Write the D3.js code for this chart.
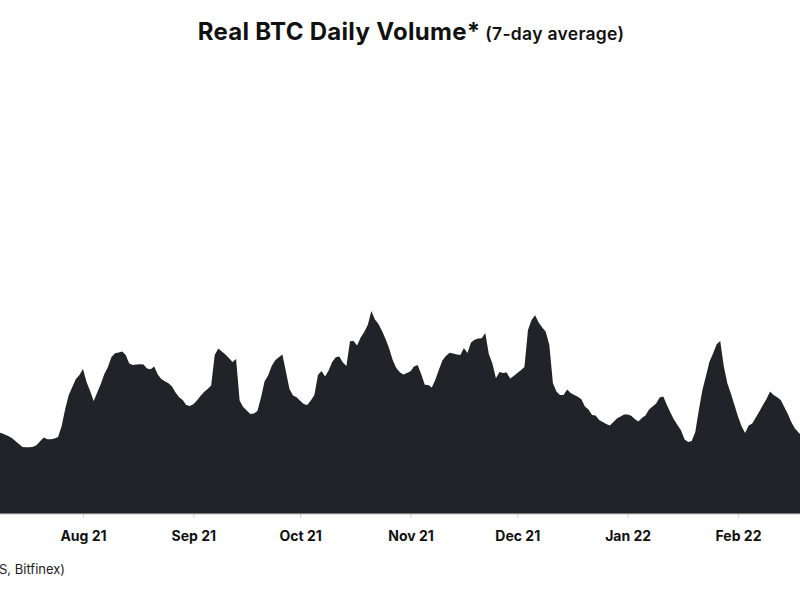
<!DOCTYPE html>
<html><head><meta charset="utf-8">
<script src="https://cdn.jsdelivr.net/npm/d3@7"></script>
<style>body{margin:0;background:#fff} svg{display:block}</style>
</head><body><svg id="c" width="800" height="600"></svg>
<script>
// ---- data ----
const startDate = "2021-07-08"; // first daily point
const volume = [
4.10,4.05,3.98,3.90,3.80,3.65,3.50,3.35,3.34,3.34,
3.36,3.45,3.65,3.82,3.74,3.74,3.78,3.85,4.40,5.25,
5.95,6.35,6.75,6.95,7.25,6.60,6.15,5.65,6.08,6.50,
7.00,7.35,7.85,8.04,8.08,8.12,7.95,7.52,7.45,7.47,
7.49,7.48,7.28,7.24,7.38,6.98,6.75,6.64,6.54,6.38,
6.08,5.84,5.70,5.45,5.40,5.49,5.68,5.90,6.10,6.25,
6.43,7.95,8.28,8.13,7.98,7.80,7.60,7.75,5.68,5.35,
5.18,5.00,5.02,5.15,5.83,6.63,6.93,7.40,7.69,7.84,
7.98,7.12,6.25,5.93,5.84,5.66,5.50,5.45,5.67,5.95,
6.95,7.15,6.88,7.18,7.60,7.84,7.88,7.58,7.40,8.64,
8.65,8.43,8.83,9.10,9.45,10.15,9.73,9.50,9.15,8.75,
8.28,7.70,7.30,7.09,6.97,7.05,7.14,7.38,7.45,7.00,
6.46,6.45,6.33,6.73,7.23,7.69,7.91,8.06,8.03,7.98,
7.95,8.30,8.05,8.58,8.71,8.77,8.79,9.05,8.00,7.53,
6.79,7.10,7.05,7.08,6.77,6.90,7.05,7.19,7.35,9.20,
9.70,9.94,9.58,9.33,9.11,8.45,6.55,6.13,5.95,5.95,
6.23,6.05,5.95,5.86,5.74,5.37,5.22,4.95,4.93,4.70,
4.60,4.50,4.43,4.60,4.77,4.88,4.97,4.97,4.91,4.75,
4.63,4.80,4.93,5.23,5.37,5.53,5.83,5.87,5.46,5.08,
4.72,4.45,4.18,3.73,3.60,3.65,4.10,5.20,6.20,6.90,
7.63,8.03,8.49,8.65,7.40,6.54,6.03,5.45,4.88,4.39,
4.05,4.42,4.52,4.83,5.13,5.45,5.75,6.12,5.95,5.84,
5.70,5.35,5.00,4.59,4.28,4.08,3.90
];
const tickDates = ["2021-08-01","2021-09-01","2021-10-01","2021-11-01","2021-12-01","2022-01-01","2022-02-01"];
const tickLabels = ["Aug 21","Sep 21","Oct 21","Nov 21","Dec 21","Jan 22","Feb 22"];
const titleMain = "Real BTC Daily Volume*";
const titleSub = "(7-day average)";
const sourceText = "S, Bitfinex)";

// ---- chart ----
const svg = d3.select("#c");
const parse = d3.utcParse("%Y-%m-%d");
const d0 = parse(startDate);
const data = volume.map((v, i) => ({ date: d3.utcDay.offset(d0, i), value: v }));

const x = d3.scaleUtc()
  .domain([parse("2021-08-01"), parse("2022-02-01")])
  .range([83, 738]);
const y = d3.scaleLinear().domain([0, 22]).range([514, 74]);

const area = d3.area()
  .x(d => x(d.date))
  .y0(y(0))
  .y1(d => y(d.value));

svg.append("path")
  .datum(data)
  .attr("d", area)
  .attr("fill", "#212328");

const axis = d3.axisBottom(x)
  .tickValues(tickDates.map(parse))
  .tickFormat((d, i) => tickLabels[i])
  .tickSize(4)
  .tickPadding(13);

const gx = svg.append("g")
  .attr("transform", `translate(0,${y(0)})`)
  .call(axis);
gx.select(".domain").remove();
gx.insert("line", ":first-child")
  .attr("x1", 0).attr("x2", 800)
  .attr("stroke", "#c8c8c8").attr("stroke-width", 1.2);
gx.selectAll(".tick line").attr("stroke", "#d0d0d0");
gx.selectAll(".tick text")
  .attr("fill", "#111")
  .style("font-family", "Inter, 'Noto Sans', sans-serif")
  .style("font-weight", 700)
  .style("font-size", "14px");

const t = svg.append("text")
  .attr("x", 411).attr("y", 40)
  .attr("text-anchor", "middle")
  .style("font-family", "Inter, 'Noto Sans', sans-serif")
  .attr("fill", "#111");
t.append("tspan").text(titleMain)
  .style("font-weight", 700).style("font-size", "24px").style("letter-spacing", "0.3px");
t.append("tspan").text(" " + titleSub)
  .style("font-weight", 600).style("font-size", "17.5px").style("letter-spacing", "0.3px");

svg.append("text")
  .attr("x", -1).attr("y", 574)
  .style("font-family", "Inter, 'Noto Sans', sans-serif")
  .style("font-size", "13px")
  .attr("fill", "#222")
  .text(sourceText);
</script>
</body></html>
